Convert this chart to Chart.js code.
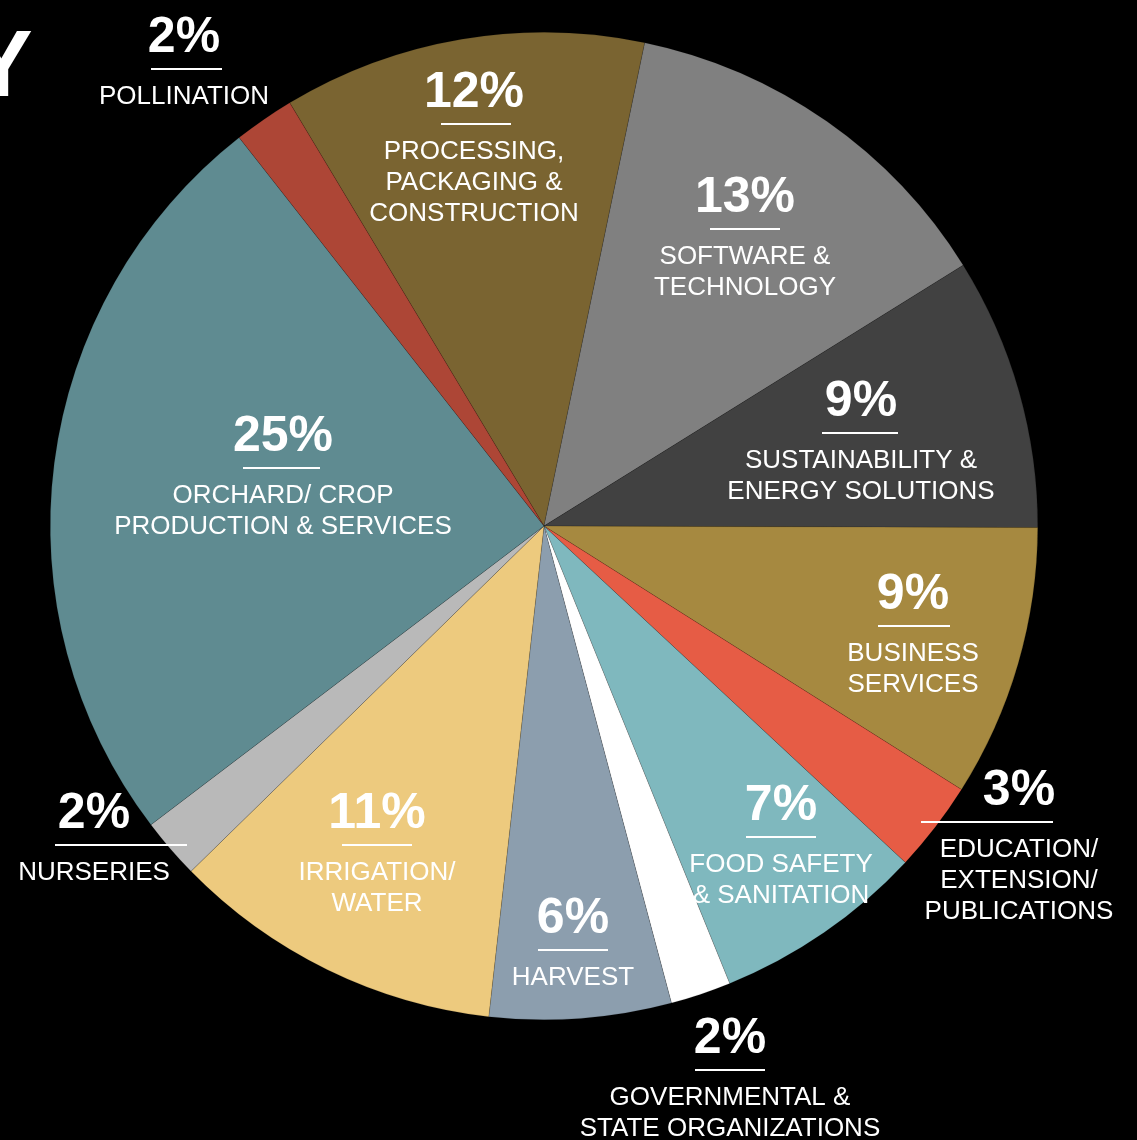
<!DOCTYPE html>
<html>
<head>
<meta charset="utf-8">
<title>Industry breakdown</title>
<script src="https://cdn.jsdelivr.net/npm/chart.js@4/dist/chart.umd.min.js"></script>
<style>
  html, body { margin: 0; padding: 0; background: #000; }
  #wrap { position: relative; width: 1137px; height: 1140px; overflow: hidden; }
</style>
</head>
<body>
<div id="wrap"><canvas id="pieChart"></canvas></div>
<script>
// data, clockwise starting at the pollination/processing edge
const categories = [
  ['PROCESSING,', 'PACKAGING &', 'CONSTRUCTION'],
  ['SOFTWARE &', 'TECHNOLOGY'],
  ['SUSTAINABILITY &', 'ENERGY SOLUTIONS'],
  ['BUSINESS', 'SERVICES'],
  ['EDUCATION/', 'EXTENSION/', 'PUBLICATIONS'],
  ['FOOD SAFETY', '& SANITATION'],
  ['GOVERNMENTAL &', 'STATE ORGANIZATIONS'],
  ['HARVEST'],
  ['IRRIGATION/', 'WATER'],
  ['NURSERIES'],
  ['ORCHARD/ CROP', 'PRODUCTION & SERVICES'],
  ['POLLINATION']
];
const shares = [12, 13, 9, 9, 3, 7, 2, 6, 11, 2, 25, 2];
const sliceColors = [
  '#7a6431', '#808080', '#414141', '#a68940', '#e65c45', '#7fb8be',
  '#ffffff', '#8c9eae', '#edca7e', '#b9b9b9', '#5f8b91', '#ad4636'
];

// label placement: text centre x, baseline of the percent, underline span
const labelSpots = [
  { x: 474, y: 107, line: [441, 511] },
  { x: 745, y: 212, line: [710, 780] },
  { x: 861, y: 416, line: [822, 898] },
  { x: 913, y: 609, line: [878, 950] },
  { x: 1019, y: 805, line: [921, 1053] },
  { x: 781, y: 820, line: [746, 816] },
  { x: 730, y: 1053, line: [695, 765] },
  { x: 573, y: 933, line: [538, 608] },
  { x: 377, y: 828, line: [342, 412] },
  { x: 94, y: 828, line: [55, 187] },
  { x: 283, y: 451, line: [243, 320] },
  { x: 184, y: 52, line: [151, 222] }
];

const FONT = '"Liberation Sans", Arial, sans-serif';

// draws the percent / underline / category text on top of the pie
const sliceLabels = {
  id: 'sliceLabels',
  afterDraw(chart) {
    const ctx = chart.ctx;
    ctx.save();
    ctx.fillStyle = '#fff';
    ctx.strokeStyle = '#fff';
    ctx.textBaseline = 'alphabetic';

    // leftover of the page title, cut off at the edge
    ctx.font = 'bold 94px ' + FONT;
    ctx.textAlign = 'left';
    ctx.fillText('Y', -30, 96);
    ctx.textAlign = 'center';

    shares.forEach((v, i) => {
      const s = labelSpots[i];
      ctx.font = 'bold 50px ' + FONT;
      ctx.fillText(v + '%', s.x, s.y);

      ctx.lineWidth = 2;
      ctx.beginPath();
      ctx.moveTo(s.line[0], s.y + 17);
      ctx.lineTo(s.line[1], s.y + 17);
      ctx.stroke();

      ctx.font = '26px ' + FONT;
      categories[i].forEach((txt, k) => {
        ctx.fillText(txt, s.x, s.y + 52 + k * 31);
      });
    });
    ctx.restore();
  }
};

const ctx = document.getElementById('pieChart').getContext('2d');
new Chart(ctx, {
  type: 'pie',
  data: {
    labels: categories.map(c => c.join(' ')),
    datasets: [{
      data: shares,
      backgroundColor: sliceColors,
      borderColor: 'rgba(0,0,0,0.25)',
      borderWidth: 0.5
    }]
  },
  options: {
    responsive: true,
    maintainAspectRatio: false,
    animation: false,
    rotation: -31,
    layout: { padding: { left: 50, right: 99, top: 32, bottom: 120 } },
    plugins: {
      legend: { display: false },
      tooltip: { enabled: false }
    }
  },
  plugins: [sliceLabels]
});
</script>
</body>
</html>
